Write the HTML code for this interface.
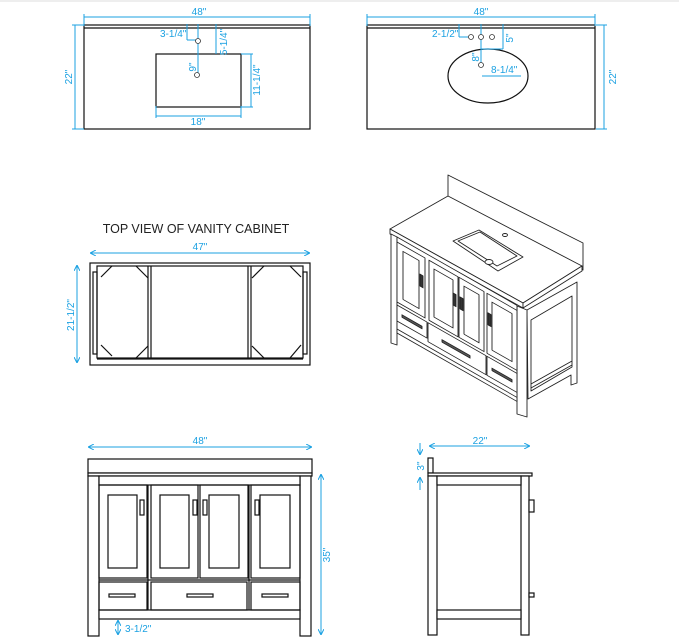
<!DOCTYPE html>
<html><head><meta charset="utf-8"><style>
html,body{margin:0;padding:0;background:#fff;}
svg{display:block;}
text{font-family:"Liberation Sans",sans-serif;}
.d{fill:#1ba1e2;font-size:10px;}
.b{stroke:#1ba1e2;stroke-width:1;fill:none;}
.k{stroke:#111;stroke-width:1.2;fill:none;}
.kw{stroke:#111;stroke-width:1.2;fill:#fff;}
.t{stroke:#333;stroke-width:0.8;fill:#fff;}
</style></head><body>
<svg width="679" height="644" viewBox="0 0 679 644" xmlns="http://www.w3.org/2000/svg">
<defs>
<marker id="a" markerWidth="6" markerHeight="6" refX="5" refY="3" orient="auto"><path d="M0,0 L6,3 L0,6" fill="none" stroke="#1ba1e2" stroke-width="1"/></marker>
</defs>
<rect x="0" y="0" width="679" height="2" fill="#eee"/>

<!-- Panel 1 -->
<rect x="84" y="25" width="226" height="104" class="k"/>
<line x1="84" y1="28" x2="310" y2="28" class="k"/>
<line x1="84" y1="17" x2="310" y2="17" class="b"/>
<line x1="84" y1="14" x2="84" y2="26" class="b"/><line x1="310" y1="14" x2="310" y2="26" class="b"/>
<text x="199" y="15" class="d" text-anchor="middle">48"</text>
<line x1="75" y1="25" x2="75" y2="129" class="b"/>
<line x1="72" y1="25" x2="84" y2="25" class="b"/><line x1="72" y1="129" x2="84" y2="129" class="b"/>
<text transform="translate(72,77) rotate(-90)" class="d" text-anchor="middle">22"</text>
<rect x="156" y="54" width="85" height="53" class="k"/>
<line x1="156" y1="116" x2="241" y2="116" class="b"/>
<line x1="156" y1="106" x2="156" y2="118" class="b"/><line x1="241" y1="106" x2="241" y2="118" class="b"/>
<text x="198" y="125" class="d" text-anchor="middle">18"</text>
<line x1="251" y1="54" x2="251" y2="107" class="b"/>
<line x1="241" y1="54" x2="253" y2="54" class="b"/><line x1="241" y1="107" x2="253" y2="107" class="b"/>
<text transform="translate(260,80) rotate(-90)" class="d" text-anchor="middle">11-1/4"</text>
<line x1="198" y1="24" x2="198" y2="75" class="b"/>
<line x1="187" y1="24" x2="187" y2="40" class="b"/><line x1="187" y1="40" x2="197" y2="40" class="b"/>
<text x="160" y="37" class="d">3-1/4"</text>
<line x1="216" y1="24" x2="216" y2="54" class="b"/>
<text transform="translate(227,42) rotate(-90)" class="d" text-anchor="middle">5-1/4"</text>
<text transform="translate(196,67) rotate(-90)" class="d" text-anchor="middle">9"</text>
<circle cx="198" cy="41" r="2.5" class="t"/><circle cx="197" cy="75" r="2.5" class="t"/>

<!-- Panel 2 -->
<rect x="367" y="25" width="228" height="104" class="k"/>
<line x1="367" y1="28" x2="595" y2="28" class="k"/>
<line x1="367" y1="17" x2="595" y2="17" class="b"/>
<line x1="367" y1="14" x2="367" y2="26" class="b"/><line x1="595" y1="14" x2="595" y2="26" class="b"/>
<text x="481" y="15" class="d" text-anchor="middle">48"</text>
<line x1="604" y1="25" x2="604" y2="129" class="b"/>
<line x1="596" y1="25" x2="607" y2="25" class="b"/><line x1="596" y1="129" x2="607" y2="129" class="b"/>
<text transform="translate(616,77) rotate(-90)" class="d" text-anchor="middle">22"</text>
<ellipse cx="488" cy="76" rx="40" ry="27" class="k"/>
<line x1="459" y1="24" x2="459" y2="37" class="b"/><line x1="459" y1="37" x2="468" y2="37" class="b"/>
<text x="432" y="37" class="d">2-1/2"</text>
<line x1="481" y1="24" x2="481" y2="65" class="b"/>
<line x1="503" y1="24" x2="503" y2="49" class="b"/><line x1="481" y1="49" x2="503" y2="49" class="b"/>
<text transform="translate(513,38) rotate(-90)" class="d" text-anchor="middle">5"</text>
<text transform="translate(479,57) rotate(-90)" class="d" text-anchor="middle">8"</text>
<line x1="482" y1="76" x2="521" y2="76" class="b"/>
<text x="491" y="73" class="d">8-1/4"</text>
<circle cx="471" cy="37" r="2.5" class="t"/><circle cx="481" cy="37" r="2.5" class="t"/><circle cx="492" cy="37" r="2.5" class="t"/><circle cx="481" cy="65" r="2.5" class="t"/>

<!-- Top view -->
<text x="196" y="233" text-anchor="middle" style="font-size:12.5px;fill:#222;">TOP VIEW OF VANITY CABINET</text>
<line x1="91" y1="253" x2="309" y2="253" class="b" marker-end="url(#a)"/>
<line x1="309" y1="253" x2="91" y2="253" class="b" marker-end="url(#a)"/>
<text x="200" y="250" class="d" text-anchor="middle">47"</text>
<line x1="77" y1="266" x2="77" y2="362" class="b" marker-end="url(#a)"/>
<line x1="77" y1="362" x2="77" y2="266" class="b" marker-end="url(#a)"/>
<text transform="translate(74,315) rotate(-90)" class="d" text-anchor="middle">21-1/2"</text>
<rect x="90" y="263" width="220" height="102" class="k"/>
<rect x="97" y="266" width="206" height="92" class="k" stroke-width="0.8"/>
<line x1="97" y1="359" x2="303" y2="359" class="k"/>
<rect x="93" y="272" width="4" height="82" class="k" stroke-width="0.8"/>
<rect x="303" y="272" width="4" height="82" class="k" stroke-width="0.8"/>
<line x1="148" y1="266" x2="148" y2="358" class="k"/><line x1="151" y1="266" x2="151" y2="358" class="k"/>
<line x1="248" y1="266" x2="248" y2="358" class="k"/><line x1="251" y1="266" x2="251" y2="358" class="k"/>
<path d="M101,277 L112,266 M136,266 L148,278 M101,345 L112,356 M136,358 L148,346 M252,278 L264,266 M290,266 L301,277 M252,346 L264,358 M290,358 L301,345" class="k" stroke-width="0.8"/>

<!-- Isometric -->
<g stroke="#222" stroke-width="0.9" fill="#fff" stroke-linejoin="round">
<path d="M448,175 L583,243 L583,270 L448,197 Z"/>
<path d="M390,229 L448,196 L582,266 L523,303 Z"/>
<path d="M390,229 L523,303 L523,308 L390,234 Z"/>
<path d="M523,303 L582,266 L582,271 L523,308 Z"/>
<path d="M453,241 L479,230 L523,257 L498,271 Z"/>
<path d="M458,241 L480,232 L517,256 L497,266 Z"/>
<ellipse cx="489" cy="262" rx="4" ry="2.5"/><ellipse cx="505" cy="235" rx="2.5" ry="1.5"/>
<!-- right side -->
<path d="M527,310 L577,282 L577,383 L571,385 L571,375 L528,399 Z"/>
<path d="M531,320 L572,296 L572,367 L531,391 Z"/>
<path d="M531,384 L572,361 M531,388 L572,365"/>
<!-- legs -->
<path d="M391,234 L397,237 L397,345 L391,343 Z"/>
<path d="M517,306 L527,310 L527,417 L517,414 Z"/>
<g transform="matrix(1,0.57,0,1,397,237)">
<rect x="0" y="0" width="120" height="96" fill="#fff"/>
<rect x="0" y="5" width="28" height="60"/><rect x="6" y="11" width="16" height="48"/>
<rect x="32" y="5" width="29" height="60"/><rect x="37" y="11" width="19" height="48"/>
<rect x="62" y="5" width="25" height="60"/><rect x="67" y="11" width="15" height="48"/>
<rect x="90" y="5" width="30" height="60"/><rect x="95" y="11" width="20" height="48"/>
<rect x="0" y="68" width="30" height="16"/><rect x="31" y="68" width="58" height="19"/><rect x="90" y="68" width="30" height="19"/>
<line x1="0" y1="92" x2="120" y2="92"/>
<rect x="23" y="24" width="3" height="12" fill="#333"/><rect x="56" y="24" width="3" height="12" fill="#333"/><rect x="63" y="24" width="3" height="12" fill="#333"/><rect x="91" y="24" width="3" height="12" fill="#333"/>
<rect x="5" y="75" width="20" height="2.5" fill="#555"/><rect x="45" y="77" width="28" height="2.5" fill="#555"/><rect x="95" y="77" width="20" height="2.5" fill="#555"/>
</g>
</g>

<!-- Front view -->
<line x1="89" y1="447" x2="311" y2="447" class="b" marker-end="url(#a)"/>
<line x1="311" y1="447" x2="89" y2="447" class="b" marker-end="url(#a)"/>
<text x="200" y="444" class="d" text-anchor="middle">48"</text>
<line x1="321" y1="475" x2="321" y2="634" class="b" marker-end="url(#a)"/>
<line x1="321" y1="634" x2="321" y2="475" class="b" marker-end="url(#a)"/>
<text transform="translate(330,555) rotate(-90)" class="d" text-anchor="middle">35"</text>
<g class="k" fill="#fff">
<rect x="88" y="459" width="224" height="14" class="kw"/>
<rect x="88" y="473" width="224" height="3" class="kw"/>
<rect x="88" y="476" width="11" height="160" class="kw"/>
<rect x="300" y="476" width="11" height="160" class="kw"/>
<rect x="99" y="476" width="201" height="9" class="kw"/>
<rect x="99" y="610" width="201" height="9" class="kw"/>
<rect x="99" y="485" width="48" height="93"/><rect x="108" y="495" width="29" height="73"/>
<rect x="151" y="485" width="47" height="93"/><rect x="160" y="495" width="29" height="73"/>
<rect x="200" y="485" width="48" height="93"/><rect x="209" y="495" width="30" height="73"/>
<rect x="251" y="485" width="49" height="93"/><rect x="260" y="495" width="30" height="73"/>
<line x1="99" y1="580" x2="300" y2="580"/>
<rect x="99" y="582" width="48" height="28"/><rect x="151" y="582" width="96" height="28"/><rect x="251" y="582" width="49" height="28"/>
<line x1="148" y1="485" x2="148" y2="610"/><line x1="249" y1="485" x2="249" y2="610"/>
<rect x="140" y="500" width="4" height="15"/><rect x="193" y="500" width="4" height="15"/><rect x="203" y="500" width="4" height="15"/><rect x="255" y="500" width="4" height="15"/>
<rect x="109" y="594" width="26" height="3"/><rect x="187" y="594" width="26" height="3"/><rect x="262" y="594" width="26" height="3"/>
</g>
<line x1="118" y1="621" x2="118" y2="634" class="b" marker-end="url(#a)"/>
<line x1="118" y1="634" x2="118" y2="621" class="b" marker-end="url(#a)"/>
<text x="125" y="632" class="d">3-1/2"</text>

<!-- Side view -->
<line x1="430" y1="446" x2="529" y2="446" class="b" marker-end="url(#a)"/>
<line x1="529" y1="446" x2="430" y2="446" class="b" marker-end="url(#a)"/>
<text x="480" y="444" class="d" text-anchor="middle">22"</text>
<line x1="420" y1="443" x2="420" y2="454" class="b" marker-end="url(#a)"/>
<line x1="420" y1="490" x2="420" y2="478" class="b" marker-end="url(#a)"/>
<text transform="translate(424,466) rotate(-90)" class="d" text-anchor="middle">3"</text>
<g class="kw">
<rect x="428" y="458" width="5" height="15"/>
<rect x="428" y="473" width="104" height="3"/>
<rect x="428" y="476" width="9" height="159"/>
<rect x="521" y="476" width="8" height="159"/>
<rect x="437" y="476" width="84" height="9"/>
<rect x="437" y="610" width="84" height="9"/>
<rect x="529" y="500" width="5" height="12"/>
<rect x="529" y="593" width="5" height="4"/>
</g>
</svg>
</body></html>
